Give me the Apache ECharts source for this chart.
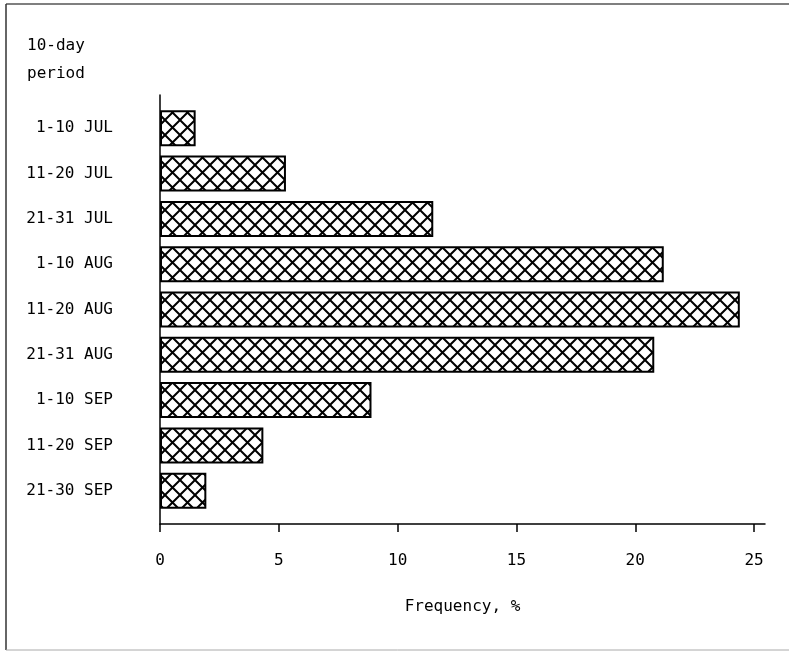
<!DOCTYPE html>
<html>
<head>
<meta charset="utf-8">
<script src="https://cdn.jsdelivr.net/npm/echarts@6/dist/echarts.min.js"></script>
<style>
  html, body { margin: 0; padding: 0; background: #fff; }
  #chart { width: 789px; height: 651px; }
</style>
</head>
<body>
<div id="chart"></div>
<script>
  // 10-day periods, top to bottom
  var periods = ['1-10 JUL', '11-20 JUL', '21-31 JUL', '1-10 AUG', '11-20 AUG',
                 '21-31 AUG', '1-10 SEP', '11-20 SEP', '21-30 SEP']
  var frequency = [1.5, 5.3, 11.5, 21.2, 24.4, 20.8, 8.9, 4.35, 1.95]
  var xTicks = [0, 5, 10, 15, 20, 25]

  var FONT = '"DejaVu Sans Mono", monospace'

  // cross hatch pattern
  var P = 15
  var hatch = document.createElement('canvas')
  hatch.width = P
  hatch.height = P
  var ctx = hatch.getContext('2d')
  ctx.fillStyle = '#fff'
  ctx.fillRect(0, 0, P, P)
  ctx.strokeStyle = '#000'
  ctx.lineWidth = 2
  ctx.beginPath()
  ctx.moveTo(-2, -2); ctx.lineTo(P + 2, P + 2)
  ctx.moveTo(P + 2, -2); ctx.lineTo(-2, P + 2)
  ctx.stroke()

  var chart = echarts.init(document.getElementById('chart'))
  chart.setOption({
    animation: false,
    backgroundColor: '#fff',
    graphic: [
      { type: 'line', shape: { x1: 6, y1: 4, x2: 789, y2: 4 }, style: { stroke: '#555', lineWidth: 1.5 } },
      { type: 'line', shape: { x1: 6, y1: 4, x2: 6, y2: 650 }, style: { stroke: '#333', lineWidth: 1.5 } },
      { type: 'line', shape: { x1: 6, y1: 650, x2: 789, y2: 650 }, style: { stroke: '#aaa', lineWidth: 1 } },
      {
        type: 'text', left: 27, top: 32,
        style: { text: '10-day\nperiod', font: '16px ' + FONT, lineHeight: 28, fill: '#000' }
      }
    ],
    grid: [
      { left: 160, right: 24, top: 95, bottom: 127 },
      { left: 160, right: 24, top: 105.6, bottom: 137.6 }
    ],
    xAxis: [{
      gridIndex: 0,
      type: 'value',
      min: 0,
      max: 25.46,
      interval: 5,
      splitLine: { show: false },
      axisLine: { lineStyle: { color: '#000', width: 1.5 } },
      axisTick: { show: true, inside: false, length: 8, lineStyle: { color: '#000', width: 1.5 } },
      axisLabel: {
        margin: 29,
        fontFamily: FONT, fontSize: 16, color: '#000',
        showMaxLabel: false,
        formatter: function (v) { return xTicks.indexOf(v) >= 0 ? String(v) : '' }
      },
      name: 'Frequency, %',
      nameLocation: 'middle',
      nameGap: 75,
      nameTextStyle: { fontFamily: FONT, fontSize: 16, color: '#000' }
    }, {
      gridIndex: 1,
      type: 'value',
      min: 0,
      max: 25.46,
      show: false
    }],
    yAxis: [{
      gridIndex: 0,
      type: 'value',
      axisLine: { show: true, lineStyle: { color: '#000', width: 1.5 } },
      axisTick: { show: false },
      axisLabel: { show: false },
      splitLine: { show: false }
    }, {
      gridIndex: 1,
      type: 'category',
      inverse: true,
      data: periods,
      axisLine: { show: false },
      axisTick: { show: false },
      axisLabel: { margin: 47, fontFamily: FONT, fontSize: 16, color: '#000' }
    }],
    series: [{
      type: 'bar',
      xAxisIndex: 1,
      yAxisIndex: 1,
      barWidth: 36,
      data: frequency,
      itemStyle: {
        color: { image: hatch, repeat: 'repeat' },
        borderColor: '#000',
        borderWidth: 2
      }
    }]
  })
</script>
</body>
</html>
